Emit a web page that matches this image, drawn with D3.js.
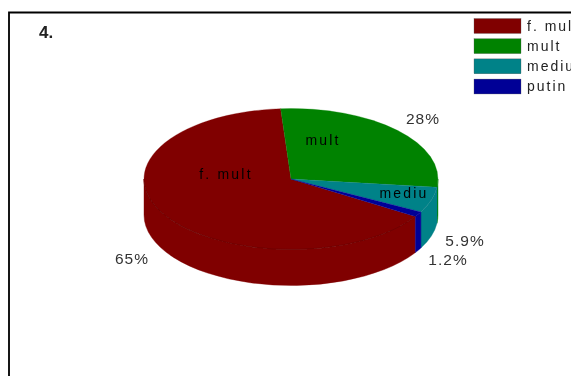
<!DOCTYPE html>
<html><head><meta charset="utf-8">
<script src="https://cdn.jsdelivr.net/npm/d3@7"></script>
<style>html,body{margin:0;padding:0;background:#fff;overflow:hidden}svg{display:block}text{font-family:"Liberation Sans",Arial,sans-serif}</style>
</head><body><div id="c"></div>
<script>
const categories=["f. mult","mult","mediu","putin"];
const values=[65,28,5.9,1.2];
const pctLabels=["65%","28%","5.9%","1.2%"];
const colors=["#800000","#008200","#068288","#000096"];
const sliceNames=["f. mult","mult","mediu",""];

const W=571,H=376,cx=291,cy=179,rx=147,ry=70.5,depth=36;
const svg=d3.select("#c").append("svg").attr("width",W).attr("height",H);
const defs=svg.append("defs");
defs.append("filter").attr("id","soft").append("feGaussianBlur").attr("stdDeviation",0.55);
const root=svg.append("g").attr("filter","url(#soft)");
root.append("rect").attr("width",W).attr("height",H).attr("fill","#fff");
root.append("path").attr("d",`M9,${H+2}V12.5H${W+2}`).attr("fill","none").attr("stroke","#000").attr("stroke-width",1.8);
root.append("text").attr("x",39).attr("y",38).attr("font-size",17).attr("font-weight","bold").attr("fill","#222").text("4.");

const start=122.2*Math.PI/180;
const pie=d3.pie().sort(null).startAngle(start).endAngle(start+2*Math.PI);
const arcs=pie(values);
const px=a=>cx+rx*Math.sin(a), py=a=>cy-ry*Math.cos(a);

// walls: visible part of each slice, between 90deg and 270deg clockwise from north
const wall=root.append("g");
arcs.forEach((d,i)=>{
  [0,2*Math.PI].forEach(shift=>{
    const a0=Math.max(d.startAngle-shift,Math.PI/2),a1=Math.min(d.endAngle-shift,1.5*Math.PI);
    if(a1<=a0)return;
    const large=a1-a0>Math.PI?1:0;
    wall.append("path").attr("fill",colors[i]).attr("stroke",colors[i]).attr("stroke-width",0.4)
      .attr("d",`M${px(a0)},${py(a0)}A${rx},${ry} 0 ${large} 1 ${px(a1)},${py(a1)}L${px(a1)},${py(a1)+depth}A${rx},${ry} 0 ${large} 0 ${px(a0)},${py(a0)+depth}Z`);
  });
});
// top face, via d3.arc in a squashed group
const topFace=root.append("g").attr("transform",`translate(${cx},${cy}) scale(1,${ry/rx})`);
const arc=d3.arc().innerRadius(0).outerRadius(rx);
topFace.selectAll("path").data(arcs).join("path").attr("d",arc)
  .attr("fill",(d,i)=>colors[i]).attr("stroke",(d,i)=>colors[i]).attr("stroke-width",0.4);
// faint rim line on the red wall
root.append("path").attr("fill","none").attr("stroke","#6a0000").attr("stroke-width",0.8)
  .attr("d",`M${px(1.5*Math.PI)},${py(1.5*Math.PI)}A${rx},${ry} 0 0 0 ${px(start)},${py(start)}`);

// in-slice names
const nameOffsets=[[-65,-5],[32,-39],[113,14],[0,0]];
sliceNames.forEach((t,i)=>{ if(!t)return;
  root.append("text").attr("x",cx+nameOffsets[i][0]).attr("y",cy+nameOffsets[i][1]).attr("text-anchor","middle")
   .attr("font-size",14).attr("letter-spacing",2.2).attr("fill","#050505").attr("dy","0.35em").text(t);
});
// percent labels
const pctPos=[[132,259],[423,119],[465,241],[448,260]];
pctLabels.forEach((t,i)=>{
  root.append("text").attr("x",pctPos[i][0]).attr("y",pctPos[i][1]).attr("text-anchor","middle")
   .attr("font-size",15.5).attr("letter-spacing",1).attr("fill","#333").attr("dy","0.35em").text(t);
});
// legend
const ly=d3.scaleBand().domain(categories).range([16.5,96]).paddingInner(0.26).paddingOuter(0.1);
const leg=root.append("g");
leg.selectAll("rect").data(categories).join("rect").attr("x",474).attr("y",d=>ly(d)).attr("width",47).attr("height",ly.bandwidth())
  .attr("fill",(d,i)=>colors[i]).attr("stroke","#555").attr("stroke-width",0.3);
leg.selectAll("text").data(categories).join("text").attr("x",527).attr("y",d=>ly(d)+ly.bandwidth()/2).attr("dy","0.35em")
  .attr("font-size",14).attr("letter-spacing",2).attr("fill","#222").text(d=>d);
</script></body></html>
